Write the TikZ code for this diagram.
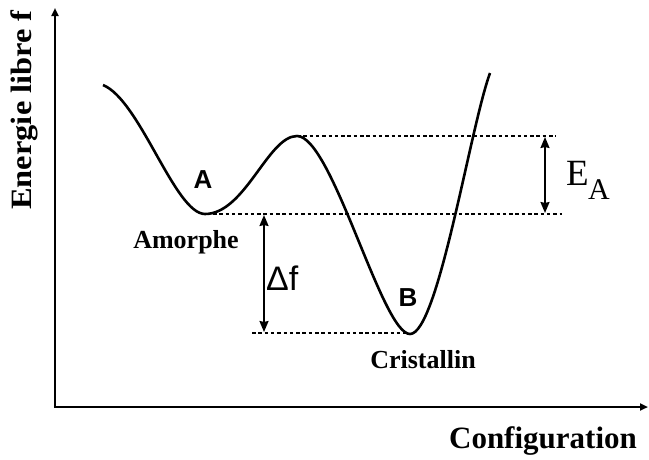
\documentclass[tikz,border=0pt]{standalone}
\usepackage{fontspec}
\setmainfont{Liberation Serif}
\newfontfamily\arialf{Liberation Sans}
\usetikzlibrary{arrows.meta}
\begin{document}
\begin{tikzpicture}[x=1pt,y=-1pt,
  curve/.style={line width=2.6pt, line join=round},
  axis/.style={line width=2.4pt, -{Triangle[length=8pt,width=7pt]}},
  dline/.style={line width=1.8pt, dash pattern=on 3.5pt off 2.8pt},
  dim/.style={line width=1.8pt, {Stealth[length=11pt,width=9pt,inset=1pt]}-{Stealth[length=11pt,width=9pt,inset=1pt]}},
  serlab/.style={font=\fontsize{26}{26}\selectfont\bfseries, inner sep=0pt},
  sanslab/.style={font=\arialf\fontsize{26}{26}\selectfont\bfseries, inner sep=0pt}]
\useasboundingbox (0,0) rectangle (649,459);
% axes
\coordinate (O) at (55,407);
\coordinate (Ytop) at (55,8);
\coordinate (Xend) at (648,407);
\draw[axis] (O) -- (Ytop);
\draw[axis] ([xshift=-1.2pt]O) -- (Xend);
% curve
\coordinate (S) at (103,85);
\coordinate (MA) at (205,214);
\coordinate (MX) at (297,136);
\coordinate (MB) at (410,334);
\coordinate (E) at (490,73);
\draw[curve] (S) .. controls (140,100) and (175,214) .. (MA)
  .. controls (245,214) and (268,136) .. (MX)
  .. controls (332,136) and (382,334) .. (MB)
  .. controls (438,334) and (470,128) .. (E);
% dashed levels
\coordinate (T2) at (556,136);
\coordinate (M1) at (213,214);
\coordinate (M2) at (562,214);
\coordinate (B1) at (252,333);
\coordinate (B2) at (408,333);
\draw[dline] (MX) -- (T2);
\draw[dline] (M1) -- (M2);
\draw[dline] (B1) -- (B2);
% dimension arrows
\coordinate (EAt) at (545,137);
\coordinate (EAb) at (545,213);
\coordinate (DFt) at (264,215);
\coordinate (DFb) at (264,332);
\draw[dim] (EAt) -- (EAb);
\draw[dim] (DFt) -- (DFb);
% labels
\node[serlab, rotate=90] (ylab) at (24,110) {\scalebox{1.1}[1]{\fontsize{29.5}{29.5}\selectfont Energie libre f}};
\node[serlab, anchor=base] (xlab) at (543,448) {\fontsize{31}{31}\selectfont Configuration};
\node[serlab, anchor=base] (amor) at (186,248) {Amorphe};
\node[serlab, anchor=base] (cris) at (423,368) {Cristallin};
\node[sanslab, anchor=base] (la) at (203,188) {A};
\node[sanslab, anchor=base] (lb) at (408,306) {B};
\node[inner sep=0pt, anchor=base west, font=\arialf\fontsize{34}{34}\selectfont] (df) at (266,290) {Δf};
\node[inner sep=0pt, anchor=base west, font=\fontsize{37}{37}\selectfont] (ea) at (566,185) {E};
\node[inner sep=0pt, anchor=base west, font=\fontsize{30}{30}\selectfont] (eaa) at (588,199) {A};
\end{tikzpicture}
\end{document}
